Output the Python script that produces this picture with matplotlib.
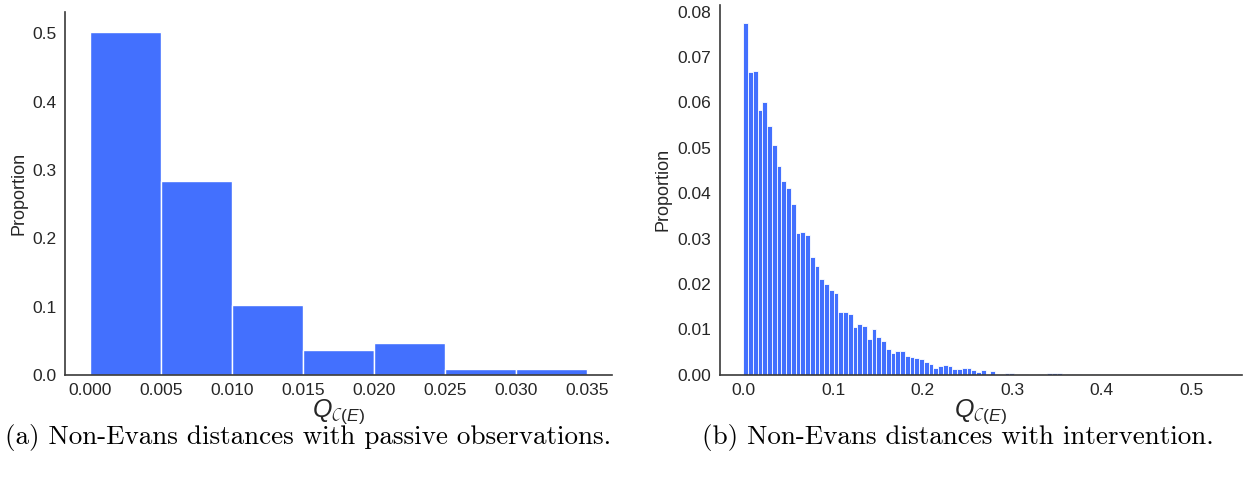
import numpy as np
import matplotlib.pyplot as plt

# ---- data ----
# (a) passive observations: bin width 0.005
bins_a = [0.000, 0.005, 0.010, 0.015, 0.020, 0.025, 0.030, 0.035]
prop_a = [0.502, 0.284, 0.102, 0.037, 0.046, 0.008, 0.008]

# (b) intervention: 100 bins from 0 to 0.53
range_b = (0.0, 0.53)
prop_b = [0.0776, 0.0666, 0.0670, 0.0584, 0.0600, 0.0549, 0.0507, 0.0459, 0.0428, 0.0411,
          0.0377, 0.0312, 0.0314, 0.0308, 0.0260, 0.0239, 0.0211, 0.0200, 0.0188, 0.0181,
          0.0139, 0.0139, 0.0135, 0.0106, 0.0111, 0.0107, 0.0079, 0.0102, 0.0083, 0.0074,
          0.0057, 0.0048, 0.0053, 0.0052, 0.0041, 0.0039, 0.0037, 0.0034, 0.0029, 0.0024,
          0.0016, 0.0020, 0.0022, 0.0020, 0.0014, 0.0013, 0.0016, 0.0015, 0.0011, 0.0007,
          0.0011, 0.0002, 0.0009, 0.0002, 0.0002, 0.0004, 0.0004, 0.0000, 0.0003, 0.0003,
          0.0000, 0.0000, 0.0002, 0.0000, 0.0004, 0.0004, 0.0004, 0.0000, 0.0001, 0.0001,
          0.0001, 0.0000, 0.0000, 0.0001, 0.0001, 0.0000, 0.0000, 0.0000, 0.0000, 0.0000,
          0.0000, 0.0000, 0.0000, 0.0000, 0.0000, 0.0000, 0.0000, 0.0000, 0.0000, 0.0000,
          0.0000, 0.0000, 0.0000, 0.0000, 0.0000, 0.0000, 0.0000, 0.0000, 0.0000, 0.00005]

captions = ["(a) Non-Evans distances with passive observations.",
            "(b) Non-Evans distances with intervention."]

# ---- style ----
plt.rcParams['font.family'] = ['Liberation Sans', 'DejaVu Sans']
plt.rcParams['mathtext.fontset'] = 'custom'
plt.rcParams['mathtext.rm'] = 'Liberation Sans'
plt.rcParams['mathtext.it'] = 'Liberation Sans:italic'
BLUE = '#4370fe'
SPINE = '#3a3a3a'

fig = plt.figure(figsize=(12.56, 4.8), dpi=100)
ax1 = fig.add_axes([0.052, 0.219, 0.435, 0.756])
ax2 = fig.add_axes([0.573, 0.219, 0.416, 0.771])

# left histogram
ax1.bar(bins_a[:-1], prop_a, width=np.diff(bins_a), align='edge',
        color=BLUE, edgecolor='white', linewidth=1.0)
ax1.set_xticks(bins_a)
ax1.set_xticklabels([f"{b:.3f}" for b in bins_a])
ax1.set_yticks([0.0, 0.1, 0.2, 0.3, 0.4, 0.5])
ax1.set_yticklabels([f"{v:.1f}" for v in [0.0, 0.1, 0.2, 0.3, 0.4, 0.5]])

# right histogram
edges_b = np.linspace(range_b[0], range_b[1], len(prop_b) + 1)
ax2.bar(edges_b[:-1], prop_b, width=np.diff(edges_b), align='edge',
        color=BLUE, edgecolor='white', linewidth=0.6)
ax2.set_xticks([0.0, 0.1, 0.2, 0.3, 0.4, 0.5])
ax2.set_xticklabels([f"{v:.1f}" for v in [0.0, 0.1, 0.2, 0.3, 0.4, 0.5]])
yt = [0.0, 0.01, 0.02, 0.03, 0.04, 0.05, 0.06, 0.07, 0.08]
ax2.set_yticks(yt)
ax2.set_yticklabels([f"{v:.2f}" for v in yt])

for ax in (ax1, ax2):
    ax.margins(x=0.05, y=0.05)
    for s in ('top', 'right'):
        ax.spines[s].set_visible(False)
    for s in ('left', 'bottom'):
        ax.spines[s].set_color(SPINE)
        ax.spines[s].set_linewidth(1.2)
    ax.tick_params(length=0, labelsize=12.5, colors='#262626', pad=6)
    ax.set_ylabel("Proportion", fontsize=13, color='#262626')
    ax.set_xlabel(r"$Q_{\mathcal{C}(E)}$", fontsize=18, color='#262626', labelpad=-1)

ax1.set_ylim(0, 0.531)
ax2.set_ylim(0, 0.0815)

# captions under each panel
fig.text(0.245, 0.088, captions[0], ha='center', va='center', fontsize=19.5,
         family=['cmr10', 'DejaVu Serif'])
fig.text(0.763, 0.088, captions[1], ha='center', va='center', fontsize=19.5,
         family=['cmr10', 'DejaVu Serif'])

fig.savefig("out.png", dpi=100)
